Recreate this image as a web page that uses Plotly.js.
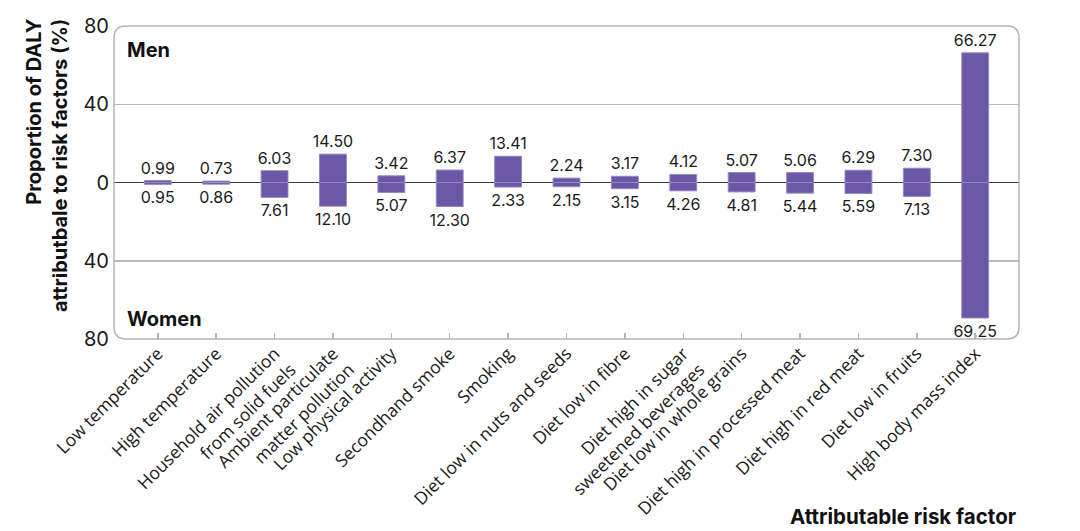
<!DOCTYPE html>
<html>
<head>
<meta charset="utf-8">
<script src="https://cdn.plot.ly/plotly-3.0.1.min.js"></script>
<style>
  html, body { margin: 0; padding: 0; background: #fff; }
  #chart { width: 1080px; height: 531px; }
</style>
</head>
<body>
<div id="chart"></div>
<script>
const categories = [
  "Low temperature",
  "High temperature",
  "Household air pollution<br>from solid fuels",
  "Ambient particulate<br>matter pollution",
  "Low physical activity",
  "Secondhand smoke",
  "Smoking",
  "Diet low in nuts and seeds",
  "Diet low in fibre",
  "Diet high in sugar<br>sweetened beverages",
  "Diet low in whole grains",
  "Diet high in processed meat",
  "Diet high in red meat",
  "Diet low in fruits",
  "High body mass index"
];
const menValues = [0.99, 0.73, 6.03, 14.50, 3.42, 6.37, 13.41, 2.24, 3.17, 4.12, 5.07, 5.06, 6.29, 7.30, 66.27];
const womenValues = [0.95, 0.86, 7.61, 12.10, 5.07, 12.30, 2.33, 2.15, 3.15, 4.26, 4.81, 5.44, 5.59, 7.13, 69.25];
const yTickVals = [-80, -40, 0, 40, 80];
const yTickText = ["80", "40", "0", "40", "80"];

const barColor = "#6a57a5";
const barLine = "#9587c4";
const numFont = { family: "Inter, 'Open Sans', sans-serif", size: 16, color: "#1a1a1a" };

const traces = [
  {
    type: "bar",
    name: "Men",
    x: categories,
    y: menValues,
    text: menValues.map(v => v.toFixed(2)),
    textposition: "outside",
    constraintext: "none",
    cliponaxis: false,
    textfont: numFont,
    width: 0.46,
    marker: { color: barColor, line: { color: barLine, width: 1 } },
    hoverinfo: "none"
  },
  {
    type: "bar",
    name: "Women",
    x: categories,
    y: womenValues.map(v => -v),
    text: womenValues.map(v => v.toFixed(2)),
    textposition: "outside",
    constraintext: "none",
    cliponaxis: false,
    textfont: numFont,
    width: 0.46,
    marker: { color: barColor, line: { color: barLine, width: 1 } },
    hoverinfo: "none"
  }
];

const rx = 12 / 905, ry = 12 / 313;
const boxPath = `M ${rx},0 L ${1 - rx},0 Q 1,0 1,${ry} L 1,${1 - ry} Q 1,1 ${1 - rx},1 L ${rx},1 Q 0,1 0,${1 - ry} L 0,${ry} Q 0,0 ${rx},0 Z`;

const layout = {
  width: 1080,
  height: 531,
  margin: { l: 114, r: 61, t: 26, b: 192 },
  paper_bgcolor: "#ffffff",
  plot_bgcolor: "#ffffff",
  showlegend: false,
  barmode: "relative",
  font: { family: "Inter, 'Open Sans', sans-serif", color: "#1a1a1a" },
  xaxis: {
    type: "category",
    range: [-0.75, 14.75],
    tickangle: -45,
    ticks: "inside",
    ticklen: 6,
    tickwidth: 1.5,
    tickcolor: "#b5b5b5",
    showline: false,
    showgrid: false,
    zeroline: false,
    tickfont: { family: "'Open Sans', sans-serif", size: 17.5, color: "#1a1a1a" },
    fixedrange: true
  },
  yaxis: {
    range: [-80, 80],
    tickvals: yTickVals,
    ticktext: yTickText,
    ticks: "",
    showline: false,
    showgrid: true,
    gridcolor: "#b8b8b8",
    gridwidth: 1.5,
    zeroline: true,
    zerolinecolor: "#3a3a3a",
    zerolinewidth: 1.5,
    tickfont: { family: "Inter, 'Open Sans', sans-serif", size: 20, color: "#1a1a1a" },
    ticklabelstandoff: 4,
    fixedrange: true
  },
  shapes: [
    {
      type: "path",
      xref: "paper",
      yref: "paper",
      path: boxPath,
      line: { color: "#b5b5b5", width: 1.5 },
      fillcolor: "rgba(0,0,0,0)",
      layer: "above"
    }
  ],
  annotations: [
    {
      text: "<b>Men</b>",
      xref: "paper", yref: "paper",
      x: 11 / 905, y: 1 - 24 / 313,
      xanchor: "left", yanchor: "middle",
      showarrow: false,
      font: { family: "Inter, sans-serif", size: 20, color: "#111" }
    },
    {
      text: "<b>Women</b>",
      xref: "paper", yref: "paper",
      x: 11 / 905, y: 20 / 313,
      xanchor: "left", yanchor: "middle",
      showarrow: false,
      font: { family: "Inter, sans-serif", size: 20, color: "#111" }
    },
    {
      text: "<b>Proportion of DALY<br>attributbale to risk factors (%)</b>",
      xref: "paper", yref: "paper",
      x: -67 / 905, y: 1 + 10 / 313,
      xanchor: "center", yanchor: "top",
      textangle: -90,
      align: "right",
      showarrow: false,
      font: { family: "Inter, sans-serif", size: 20, color: "#111" }
    },
    {
      text: "<b>Attributable risk factor</b>",
      xref: "paper", yref: "paper",
      x: 1 - 1 / 905, y: -(516 - 339) / 313,
      xanchor: "right", yanchor: "middle",
      showarrow: false,
      font: { family: "Inter, sans-serif", size: 20.5, color: "#111" }
    }
  ]
};

Plotly.newPlot("chart", traces, layout, { staticPlot: true, displayModeBar: false });
</script>
</body>
</html>
